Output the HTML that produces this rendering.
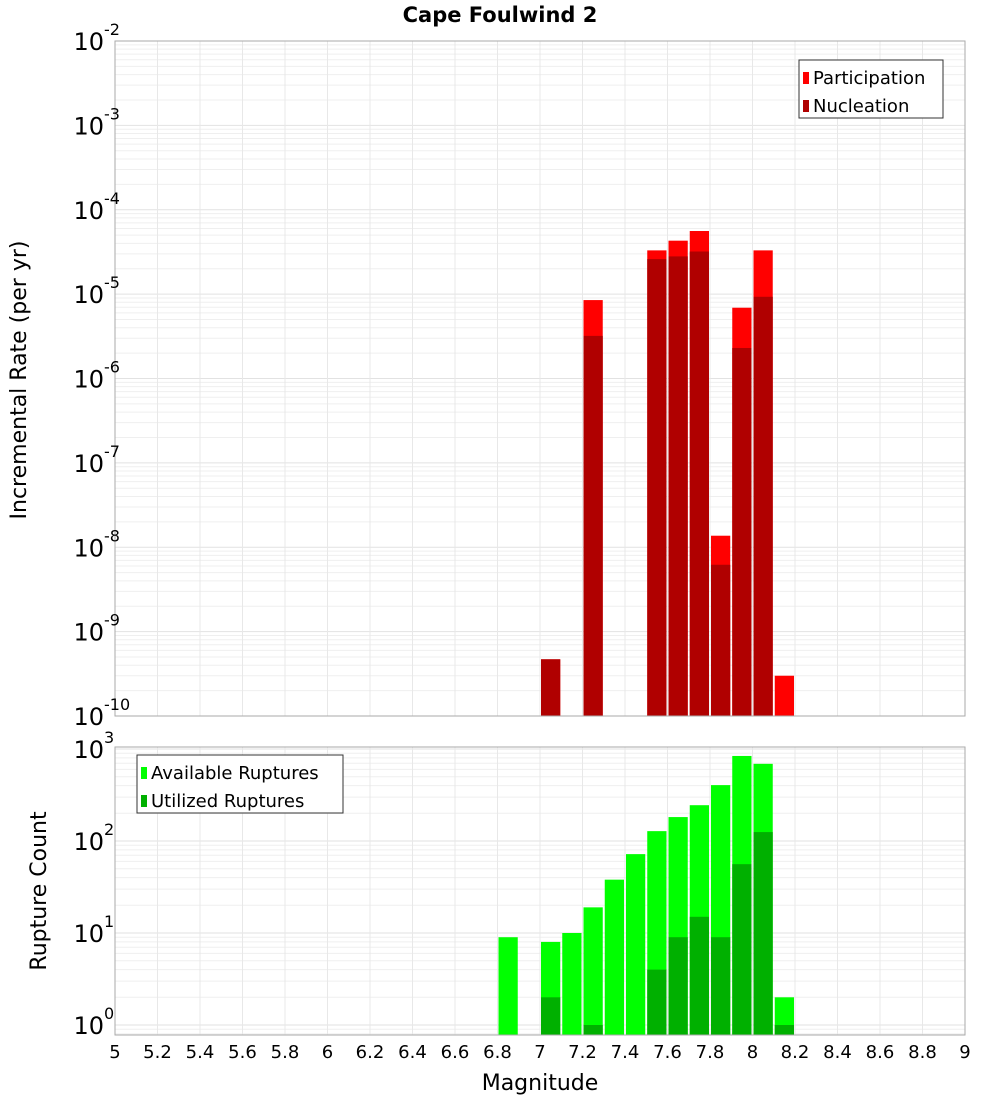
<!DOCTYPE html>
<html><head><meta charset="utf-8"><style>
body{margin:0;background:#fff;font-family:"Liberation Sans","DejaVu Sans",sans-serif;}
svg text{font-family:"DejaVu Sans","Liberation Sans",sans-serif;}
</style></head><body>
<svg id="c" width="1000" height="1100" xmlns="http://www.w3.org/2000/svg">
<text x="500" y="22" text-anchor="middle" font-size="21" font-weight="bold">Cape Foulwind 2</text>
<text transform="translate(26,380) rotate(-90)" text-anchor="middle" font-size="22">Incremental Rate (per yr)</text>
<text transform="translate(46,891) rotate(-90)" text-anchor="middle" font-size="22">Rupture Count</text>
<text x="540" y="1090" text-anchor="middle" font-size="22">Magnitude</text>
</svg>
<script>
const mags=[6.85,7.05,7.15,7.25,7.35,7.45,7.55,7.65,7.75,7.85,7.95,8.05,8.15];
const participation=[0,4.7e-10,0,8.5e-6,0,0,3.3e-5,4.3e-5,5.6e-5,1.37e-8,6.9e-6,3.3e-5,3.0e-10];
const nucleation=[0,4.7e-10,0,3.2e-6,0,0,2.6e-5,2.8e-5,3.2e-5,6.2e-9,2.3e-6,9.3e-6,0];
const available=[9,8,10,19,38,72,128,182,245,405,840,690,2];
const utilized=[0,2,0,1,0,0,4,9,15,9,56,125,1];
const xTicks=[5,5.2,5.4,5.6,5.8,6,6.2,6.4,6.6,6.8,7,7.2,7.4,7.6,7.8,8,8.2,8.4,8.6,8.8,9];
const topExps=[-2,-3,-4,-5,-6,-7,-8,-9,-10];
const botExps=[3,2,1,0];
const svg=document.getElementById('c');const NS='http://www.w3.org/2000/svg';
function mk(t,a,p){const e=document.createElementNS(NS,t);for(const k in a)e.setAttribute(k,a[k]);(p||svg).appendChild(e);return e;}
const X0=115,X1=965;const xs=m=>X0+(m-5)/4*(X1-X0);
const T={top:41,bot:716,lmin:-10,lmax:-2};const ty=v=>T.bot-(Math.log10(v)-T.lmin)/(T.lmax-T.lmin)*(T.bot-T.top);
const B={top:747,bot:1035,p1:1025,dec:92};const by=v=>B.p1-Math.log10(v)*B.dec;
function panel(y0,y1,lmin,lmax,yf,name){
  const g=mk('g',{});
  for(let d=Math.floor(lmin);d<=Math.ceil(lmax);d++)for(let k=1;k<10;k++){const y=yf(k*Math.pow(10,d));if(y<y0||y>y1)continue;
    mk('line',{x1:X0,x2:X1,y1:y,y2:y,stroke:k==1?'#e2e2e2':'#efefef','stroke-width':1},g);}
  xTicks.forEach(t=>{const x=xs(t);mk('line',{x1:x,x2:x,y1:y0,y2:y1,stroke:'#e8e8e8','stroke-width':1},g);});
}
panel(T.top,T.bot,-10,-2,ty,'top');panel(B.top,B.bot,-0.2,3.1,by,'bottom');
function bars(arr,color,yf,ybot,name){arr.forEach((v,i)=>{if(!v)return;const x=xs(mags[i]-0.05)+1,w=xs(mags[i]+0.05)-xs(mags[i]-0.05)-2;const y=Math.max(yf(v),0);
  const r=mk('rect',{x:x,y:y,width:w,height:ybot-y,fill:color});
  
  });}
bars(participation,'#ff0000',ty,T.bot,'participation');
bars(nucleation,'#b00000',ty,T.bot,'nucleation');
bars(available,'#00ff00',by,B.bot,'available');
bars(utilized,'#00b000',by,B.bot,'utilized');
mk('rect',{x:X0,y:T.top,width:X1-X0,height:T.bot-T.top,fill:'none',stroke:'#aaa'});
mk('rect',{x:X0,y:B.top,width:X1-X0,height:B.bot-B.top,fill:'none',stroke:'#aaa'});
function ylab(y,e,name){const t=mk('text',{x:104,y:y+9,'text-anchor':'end','font-size':24});
  t.textContent='10';const s=mk('text',{x:104,y:y-6,'font-size':16});s.textContent=String(e).replace('-','-');}
topExps.forEach(e=>ylab(ty(Math.pow(10,e)),e,'top-y-tick-label'));
botExps.forEach(e=>ylab(by(Math.pow(10,e)),e,'bottom-y-tick-label'));
xTicks.forEach(t=>{const l=mk('text',{x:xs(t),y:1058,'text-anchor':'middle','font-size':18});l.textContent=String(t);});
function legend(x,y,w,items,name){const g=mk('g',{});
  mk('rect',{x:x,y:y,width:w,height:58,fill:'#fff',stroke:'#333'},g);
  items.forEach((it,i)=>{mk('rect',{x:x+4,y:y+12+i*28,width:6,height:12,fill:it[1]},g);const t=mk('text',{x:x+14,y:y+24+i*28,'font-size':18},g);t.textContent=it[0];});}
legend(799,60,144,[['Participation','#ff0000'],['Nucleation','#b00000']],'top-legend');
legend(137,755,206,[['Available Ruptures','#00ff00'],['Utilized Ruptures','#00b000']],'bottom-legend');
</script>
</body></html>
